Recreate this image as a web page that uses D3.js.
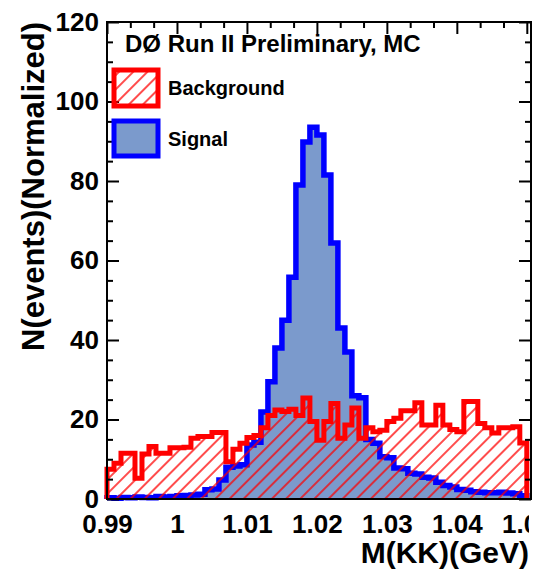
<!DOCTYPE html>
<html>
<head>
<meta charset="utf-8">
<script src="https://cdn.jsdelivr.net/npm/d3@7"></script>
<style>
  html, body { margin: 0; padding: 0; background: #fff; }
  svg { display: block; font-family: "Liberation Sans", Arial, Helvetica, sans-serif; font-weight: bold; }
</style>
</head>
<body>
<svg id="chart" width="540" height="572"></svg>
<script>
// Binning of the M(KK) histograms: 60 bins of 1 MeV from 0.99 GeV
const binStart = 0.99;
const binWidth = 0.001;

// Signal MC (normalized entries per bin)
const signalValues = [
  0.3, 0.2, 0.4, 0.3, 0.5, 0.4, 0.3, 0.6, 0.5, 0.6,
  0.8, 0.9, 1.0, 1.2, 2.3, 2.5, 4.8, 8.0, 8.3, 8.6,
  13.6, 14.3, 21.9, 29.5, 38.0, 45.0, 55.8, 79.0, 89.8, 93.5,
  91.6, 81.5, 64.4, 43.0, 37.0, 26.0, 25.5, 15.0, 14.0, 10.6,
  10.4, 7.8, 7.6, 6.5, 6.3, 5.5, 5.3, 4.2, 3.4, 3.0,
  2.4, 2.2, 1.8, 1.7, 1.6, 1.6, 1.7, 1.5, 1.3, 0.8
];

// Background MC (normalized entries per bin)
const backgroundValues = [
  7.5, 9.0, 11.5, 11.5, 5.2, 11.3, 13.2, 11.5, 11.5, 12.9,
  12.9, 13.0, 15.3, 15.7, 15.7, 16.7, 16.7, 9.4, 12.5, 14.0,
  15.5, 16.0, 17.9, 21.0, 22.4, 22.0, 22.6, 21.0, 25.4, 19.5,
  14.8, 19.5, 24.0, 15.3, 18.6, 22.9, 15.3, 17.9, 16.9, 17.3,
  19.5, 20.3, 22.2, 22.2, 24.2, 18.6, 18.6, 23.6, 18.6, 17.5,
  16.9, 24.5, 24.5, 19.0, 17.9, 16.6, 17.9, 17.9, 18.2, 14.1
];

const xTickValues = [0.99, 1.00, 1.01, 1.02, 1.03, 1.04, 1.05];
const xTickLabels = ["0.99", "1", "1.01", "1.02", "1.03", "1.04", "1.05"];
const yTickValues = [0, 20, 40, 60, 80, 100, 120];
const yTickLabels = ["0", "20", "40", "60", "80", "100", "120"];

const legendLabels = ["Background", "Signal"];
const titleText = "D\u00D8 Run II Preliminary, MC";
const xTitle = "M(KK)(GeV)";
const yTitle = "N(events)(Normalized)";

// ---- frame geometry ----
const frame = { left: 107, right: 531, top: 22, bottom: 499 };
const xMaxFrame = 1.0506;

const svg = d3.select("#chart");

const x = d3.scaleLinear().domain([binStart, xMaxFrame]).range([frame.left, frame.right]);
const y = d3.scaleLinear().domain([0, 120]).range([frame.bottom, frame.top]);

const sigBlue = "#0000ff";
const sigFill = "#7b9acc";
const bkgRed = "#ff0000";

// ---- defs: hatch pattern and clip ----
const defs = svg.append("defs");
const hatch = defs.append("pattern")
  .attr("id", "hatch")
  .attr("patternUnits", "userSpaceOnUse")
  .attr("width", 10).attr("height", 10)
  .attr("patternTransform", "rotate(45)");
hatch.append("line")
  .attr("x1", 5).attr("y1", -2).attr("x2", 5).attr("y2", 12)
  .attr("stroke", bkgRed).attr("stroke-width", 1.4);

defs.append("clipPath").attr("id", "labelClip")
  .append("rect").attr("x", 0).attr("y", 0).attr("width", 529).attr("height", 572);

// ---- histogram outline points (step shape from baseline to baseline) ----
function histPoints(values) {
  const pts = [[x(binStart), y(0)]];
  values.forEach((v, i) => {
    const lo = binStart + i * binWidth;
    const hi = lo + binWidth;
    pts.push([x(lo), y(v)], [x(hi), y(v)]);
  });
  pts.push([x(binStart + values.length * binWidth), y(0)]);
  return pts;
}
const line = d3.line();

const plot = svg.append("g");

// signal: filled area and thick blue outline
const sigPts = histPoints(signalValues);
plot.append("path").attr("d", line(sigPts) + "Z")
  .attr("fill", sigFill).attr("stroke", "none");
plot.append("path").attr("d", line(sigPts))
  .attr("fill", "none").attr("stroke", sigBlue).attr("stroke-width", 5.5)
  .attr("stroke-linejoin", "miter");

// background: hatched area and thick red outline
const bkgPts = histPoints(backgroundValues);
plot.append("path").attr("d", line(bkgPts) + "Z")
  .attr("fill", "url(#hatch)").attr("stroke", "none");
plot.append("path").attr("d", line(bkgPts))
  .attr("fill", "none").attr("stroke", bkgRed).attr("stroke-width", 5)
  .attr("stroke-linejoin", "miter");

// ---- axes with inward ticks on all four sides ----
const majorLen = 12, minorLen = 6;
const xMinor = d3.range(0, 31).map(k => binStart + k * 0.002).filter(v => !xTickValues.some(t => Math.abs(t - v) < 1e-9));
const xTopMinor = [];
xTickValues.slice(0, -1).forEach(t => { xTopMinor.push(t + 0.01 / 3, t + 0.02 / 3); });
const yMinor = d3.range(0, 121, 5).filter(v => v % 20 !== 0);

function styleAxis(g) {
  g.select(".domain").remove();
  g.selectAll(".tick line").attr("stroke", "#000").attr("stroke-width", 2);
  g.selectAll(".tick text").attr("fill", "#000")
    .style("font-family", "'Liberation Sans', Arial, sans-serif")
    .style("font-weight", "bold").style("font-size", "26px");
}

// bottom
const bottomG = svg.append("g").attr("transform", `translate(0,${frame.bottom})`)
  .attr("clip-path", "url(#labelClip)");
bottomG.append("g").call(d3.axisBottom(x).tickValues(xTickValues).tickSize(-majorLen)
  .tickPadding(16).tickFormat((d, i) => xTickLabels[i])).call(styleAxis);
bottomG.append("g").call(d3.axisBottom(x).tickValues(xMinor).tickSize(-minorLen).tickFormat("")).call(styleAxis);

// top
const topG = svg.append("g").attr("transform", `translate(0,${frame.top})`);
topG.append("g").call(d3.axisTop(x).tickValues(xTickValues).tickSize(-majorLen).tickFormat("")).call(styleAxis);
topG.append("g").call(d3.axisTop(x).tickValues(xTopMinor).tickSize(-minorLen).tickFormat("")).call(styleAxis);

// left
const leftG = svg.append("g").attr("transform", `translate(${frame.left},0)`);
leftG.append("g").call(d3.axisLeft(y).tickValues(yTickValues).tickSize(-majorLen)
  .tickPadding(8).tickFormat((d, i) => yTickLabels[i])).call(styleAxis);
leftG.append("g").call(d3.axisLeft(y).tickValues(yMinor).tickSize(-minorLen).tickFormat("")).call(styleAxis);

// right
const rightG = svg.append("g").attr("transform", `translate(${frame.right},0)`);
rightG.append("g").call(d3.axisRight(y).tickValues(yTickValues).tickSize(-majorLen).tickFormat("")).call(styleAxis);
rightG.append("g").call(d3.axisRight(y).tickValues(yMinor).tickSize(-minorLen).tickFormat("")).call(styleAxis);

// frame box
svg.append("rect")
  .attr("x", frame.left).attr("y", frame.top)
  .attr("width", frame.right - frame.left).attr("height", frame.bottom - frame.top)
  .attr("fill", "none").attr("stroke", "#000").attr("stroke-width", 2);

// ---- axis titles ----
svg.append("text")
  .attr("x", 529).attr("y", 563)
  .attr("text-anchor", "end")
  .style("font-size", "30px")
  .text(xTitle);

svg.append("text")
  .attr("transform", "translate(44,22) rotate(-90)")
  .attr("text-anchor", "end")
  .style("font-size", "31px")
  .text(yTitle);

// ---- title and legend ----
svg.append("text")
  .attr("x", 125).attr("y", 52)
  .style("font-size", "24px")
  .text(titleText);

const legend = svg.append("g");
const legendRows = [
  { label: legendLabels[0], fill: "url(#hatch)", stroke: bkgRed, y: 70, h: 36 },
  { label: legendLabels[1], fill: sigFill, stroke: sigBlue, y: 121, h: 35 }
];
legendRows.forEach(r => {
  legend.append("rect")
    .attr("x", 114).attr("y", r.y).attr("width", 44).attr("height", r.h)
    .attr("fill", r.fill).attr("stroke", r.stroke).attr("stroke-width", 5);
  legend.append("text")
    .attr("x", 168).attr("y", r.y + r.h / 2 + 7)
    .style("font-size", "20px")
    .text(r.label);
});
</script>
</body>
</html>
